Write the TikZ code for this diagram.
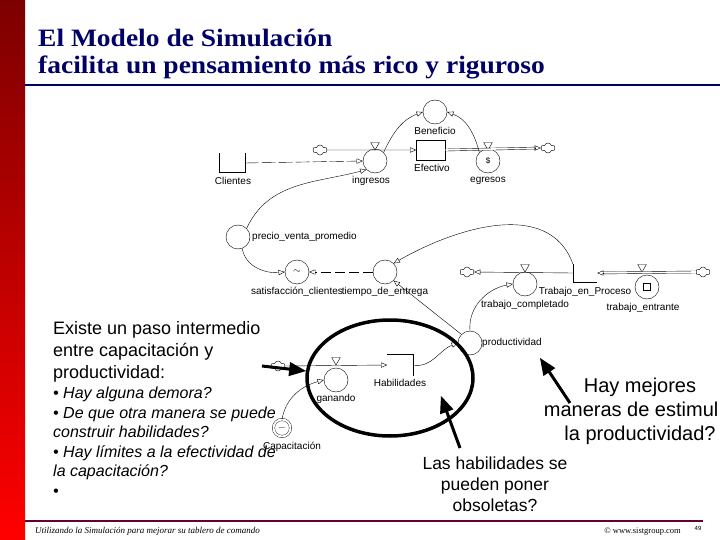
\documentclass[tikz,border=0pt]{standalone}
\usepackage{fontspec}
\setmainfont{Liberation Sans}
\newfontfamily\titlefont[FakeStretch=1.1]{Liberation Serif}
\newfontfamily\footfont{Liberation Serif}
\usetikzlibrary{arrows, shapes.geometric, shapes.symbols}
\definecolor{titleblue}{RGB}{0,0,102}
\definecolor{barred}{RGB}{255,0,0}
\definecolor{bardark}{RGB}{125,0,0}
\definecolor{footred}{RGB}{102,0,51}

\begin{document}
\begin{tikzpicture}[x=1pt,y=-1pt,>=open triangle 45,
  var node/.style={circle,draw,minimum size=24pt,inner sep=0pt},
  label node/.style={font=\fontsize{10}{11}\selectfont,inner sep=0pt},
  valve node/.style={regular polygon,regular polygon sides=3,shape border rotate=180,
    draw,inner sep=0pt,minimum size=10pt},
  cloud node/.style={cloud,cloud puffs=6,draw,minimum width=14pt,minimum height=10pt,inner sep=0pt},
  link/.style={->,thin},
  pipe/.style={->,thin},
  pipe2/.style={double,double distance=1.6pt,thin},
  big arrow/.style={-triangle 45,line width=3pt}]

  \useasboundingbox (0,0) rectangle (720,540);
  \shade[top color=bardark,bottom color=barred] (0,0) rectangle (25,540);
  \draw[titleblue,line width=2.5pt] (25,85) -- (720,85);
  \draw[footred,line width=2pt] (25,521) -- (703,521);

  % title
  \node[anchor=base west,inner sep=0pt,text=titleblue,font=\titlefont\bfseries\fontsize{25}{27}\selectfont]
    (title1) at (38,47) {El Modelo de Simulación};
  \node[anchor=base west,inner sep=0pt,text=titleblue,font=\titlefont\bfseries\fontsize{25}{27}\selectfont]
    (title2) at (38,74) {facilita un pensamiento más rico y riguroso};

  % clientes / efectivo
  \node[minimum width=25pt,minimum height=19pt,inner sep=0pt] (cli) at (232,163) {};
  \draw (cli.north west) |- (cli.south east) -- (cli.north east);
  \node[label node] at (233,181) {Clientes};
  \node[cloud node] (c1) at (320,150) {};
  \node[var node] (ing) at (375,161) {};
  \node[valve node] (vi) at (375,145) {};
  \node[label node] at (371,181) {ingresos};
  \node[draw,minimum width=29pt,minimum height=20pt,inner sep=0pt] (ef) at (431,150) {};
  \node[label node] at (432,168) {Efectivo};
  \node[var node] (ben) at (435,112) {};
  \node[label node] at (435,131) {Beneficio};
  \node[var node] (egr) at (488,161) {\footnotesize\$};
  \node[valve node] (ve) at (488,145) {};
  \node[label node] at (488,181) {egresos};
  \node[cloud node] (c2) at (548,148) {};

  \draw[pipe] (c1.east) -- (ef.west);
  \draw[pipe2,shorten >=5pt] (ef.east) -- (c2.west);
  \draw[pipe] ([xshift=-6pt]c2.west) -- (c2.west);
  \draw[link,dash pattern=on 14pt off 3pt] (cli.east) -- (ing.west);
  \draw[link] (ing.north east) to[out=65,in=200] (ben.west);
  \draw[link] (egr.north west) to[out=105,in=-20] (ben.east);

  % precio / satisfaccion / tiempo
  \node[var node] (pre) at (238,237) {};
  \node[label node,anchor=west] at (252,237) {precio\_venta\_promedio};
  \node[var node] (sat) at (297,272) {$\sim$};
  \node[label node] at (297,292) {satisfacción\_clientes};
  \node[var node] (tie) at (385,272) {};
  \node[label node] at (385,292) {tiempo\_de\_entrega};

  \draw[link] (pre.north east) to[out=65,in=195] (ing.south west);
  \draw[link] (pre.-70) to[out=-80,in=185] (sat.west);
  \draw[link,dash pattern=on 10pt off 4pt] (tie.west) -- (sat.east);

  % trabajo
  \node[cloud node] (c3) at (467,272) {};
  \node[cloud node] (c4) at (703,272) {};
  \node[minimum width=24pt,minimum height=18pt,inner sep=0pt] (tp) at (585,273) {};
  \draw (tp.north west) |- (tp.south east);
  \node[label node] at (585,292) {Trabajo\_en\_Proceso};
  \node[var node] (tc) at (525,284) {};
  \node[valve node] (vc) at (525,267) {};
  \node[label node] at (525,305) {trabajo\_completado};
  \node[var node,path picture={\draw ([shift={(-3.5pt,-3.5pt)}]path picture bounding box.center)
    rectangle +(7pt,7pt);}] (te) at (647,287) {};
  \node[valve node] (vt) at (642,267) {};
  \node[label node] at (643,308) {trabajo\_entrante};
  \node[var node] (pro) at (470,343) {};
  \node[label node,anchor=west] at (482,343) {productividad};

  \draw[pipe] (tp.west) -- (c3.east);
  \draw[pipe2,shorten >=5pt] (c4.west) -- (tp.east);
  \draw[pipe] ([xshift=6pt]tp.east) -- (tp.east);
  \draw[link] (tp.north west) to[out=110,in=30] (tie.north east);
  \draw[link] (pro.north west) -- (tie.south east);
  \draw[link] (pro.north) to[out=95,in=190] (tc.west);

  % habilidades
  \node[cloud node] (c5) at (278,366) {};
  \node[minimum width=25pt,minimum height=22pt,inner sep=0pt] (hab) at (400,365) {};
  \draw (hab.north west) -| (hab.south east);
  \node[label node] at (400,383) {Habilidades};
  \node[var node] (gan) at (336,380) {};
  \node[valve node] (vg) at (336,360) {};
  \node[label node] at (336,399) {ganando};
  \node[circle,draw,double,double distance=2pt,minimum size=17pt,inner sep=0pt] (cap) at (282,428) {$-$};
  \node[label node] at (292,447) {Capacitación};

  \draw[pipe] (c5.east) -- (hab.west);
  \draw[link] (cap.north) to[out=80,in=195] (gan.west);
  \draw[link] (hab.east) to[out=-10,in=200] (pro.west);

  % notes
  \node[ellipse,draw,line width=3.5pt,minimum width=166pt,minimum height=116pt] (ring) at (390,378) {};
  \node[anchor=north west,align=left,inner sep=0pt,font=\fontsize{18}{22}\selectfont]
    (intro) at (53,321) {Existe un paso intermedio\\entre capacitación y\\productividad:};
  \node[anchor=north west,align=left,inner sep=0pt,font=\itshape\fontsize{16}{19.5}\selectfont]
    (qs) at (53,387) {• Hay alguna demora?\\• De que otra manera se puede\\construir habilidades?\\
    • Hay límites a la efectividad de\\la capacitación?\\•};
  \node[anchor=north,align=center,inner sep=0pt,font=\fontsize{20}{24}\selectfont]
    (mej) at (640,378) {Hay mejores\\maneras de estimul\phantom{ar}\\la productividad?};
  \node[anchor=north,align=center,inner sep=0pt,font=\fontsize{17.5}{21}\selectfont]
    (obs) at (495,457) {Las habilidades se\\pueden poner\\obsoletas?};

  \coordinate (mejtail) at (570,403);
  \coordinate (mejhead) at (540,358);
  \coordinate (obstail) at (460,448);
  \coordinate (obshead) at (441,396);
  \coordinate (captail) at (262,366);
  \coordinate (caphead) at (306,371);
  \draw[big arrow] (mejtail) -- (mejhead);
  \draw[big arrow] (obstail) -- (obshead);
  \draw[big arrow] (captail) -- (caphead);

  % footer
  \node[anchor=base west,inner sep=0pt,font=\footfont\itshape\fontsize{9}{10}\selectfont]
    (foot) at (35,533) {Utilizando la Simulación para mejorar su tablero de comando};
  \node[anchor=base east,inner sep=0pt,font=\footfont\fontsize{8.5}{10}\selectfont]
    (web) at (681,533) {© www.sistgroup.com};
  \node[anchor=base,inner sep=0pt,font=\fontsize{6}{7}\selectfont] (pg) at (698,530) {49};
\end{tikzpicture}
\end{document}
